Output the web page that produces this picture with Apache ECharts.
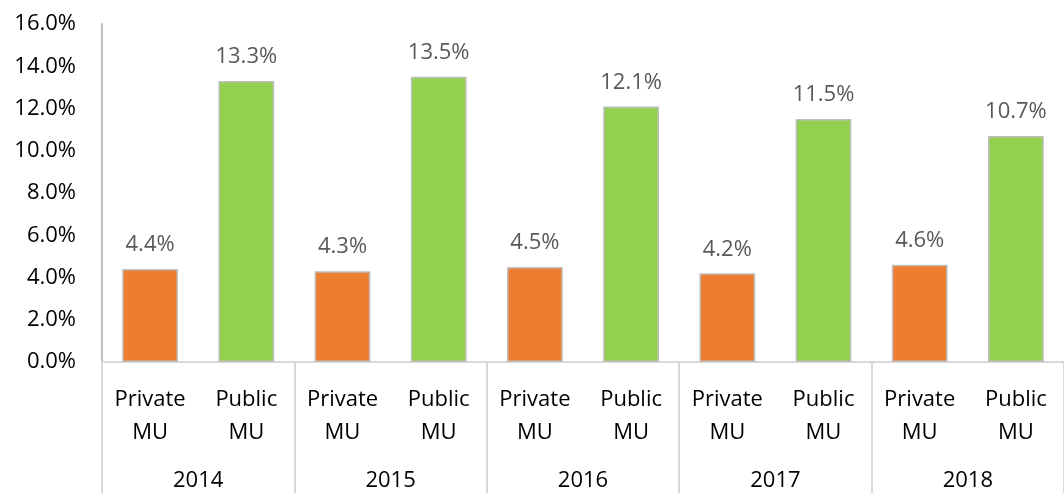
<!DOCTYPE html>
<html>
<head>
<meta charset="utf-8">
<script src="https://cdn.jsdelivr.net/npm/echarts@6/dist/echarts.min.js"></script>
<style>
  html, body { margin: 0; padding: 0; background: #fff; }
  #main { width: 1064px; height: 493px; }
</style>
</head>
<body>
<div id="main"></div>
<script>
// 数据
const years = ["2014", "2015", "2016", "2017", "2018"];
const groups = ["Private\nMU", "Public\nMU"];
const privateMU = [4.4, 4.3, 4.5, 4.2, 4.6];
const publicMU = [13.3, 13.5, 12.1, 11.5, 10.7];
const yTicks = [0, 2, 4, 6, 8, 10, 12, 14, 16];

const colors = ["#ED7D31", "#92D050"];

// 两级类目：每年两根柱子
const categories = [];
const barData = [];
years.forEach((y, i) => {
  [privateMU[i], publicMU[i]].forEach((v, j) => {
    categories.push(groups[j]);
    barData.push({ value: v, itemStyle: { color: colors[j] } });
  });
});

const chart = echarts.init(document.getElementById("main"));
const font = "'Open Sans', 'Noto Sans', sans-serif";

const option = {
  animation: false,
  grid: { left: 102, top: 24, width: 965, bottom: 131 },
  xAxis: [
    {
      type: "category",
      data: categories,
      position: "bottom",
      axisLine: { show: true, lineStyle: { color: "#D9D9D9", width: 2 } },
      axisTick: { show: false },
      axisLabel: {
        interval: 0,
        margin: 21,
        fontSize: 22,
        lineHeight: 33,
        color: "#000",
        fontFamily: font,
      },
    },
    {
      type: "category",
      data: years,
      position: "bottom",
      axisLine: { show: false },
      axisTick: {
        show: true,
        interval: 0,
        length: 135,
        lineStyle: { color: "#D9D9D9", width: 2 },
      },
      axisLabel: {
        interval: 0,
        margin: 108,
        fontSize: 22,
        color: "#000",
        fontFamily: font,
      },
    },
  ],
  yAxis: {
    type: "value",
    min: yTicks[0],
    max: yTicks[yTicks.length - 1],
    interval: 2,
    splitLine: { show: false },
    axisLine: { show: true, lineStyle: { color: "#BFBFBF", width: 2 } },
    axisTick: { show: false },
    axisLabel: {
      margin: 26,
      fontSize: 22,
      color: "#000",
      fontFamily: font,
      formatter: (v) => v.toFixed(1) + "%",
    },
  },
  series: [
    {
      type: "bar",
      xAxisIndex: 0,
      data: barData,
      barWidth: "58%",
      itemStyle: { borderColor: "#BFBFBF", borderWidth: 1.5 },
      label: {
        show: true,
        position: "top",
        distance: 13,
        fontSize: 22,
        color: "#595959",
        fontFamily: font,
        formatter: (p) => p.value.toFixed(1) + "%",
      },
    },
  ],
};

chart.setOption(option);
</script>
</body>
</html>
